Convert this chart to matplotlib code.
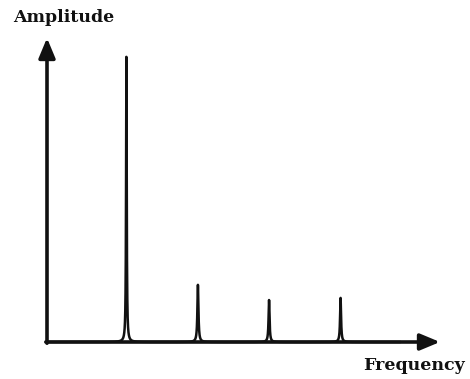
import matplotlib
matplotlib.use("Agg")
import matplotlib.pyplot as plt
import numpy as np

# line spectrum: a strong fundamental and three weak overtones
peak_freq = [2.02, 3.84, 5.65, 7.47]
peak_amp = [9.38, 1.88, 1.38, 1.45]
peak_width = [0.010, 0.016, 0.015, 0.015]

fig = plt.figure(figsize=(4.70, 3.79), dpi=100)
fig.patch.set_facecolor("white")
ax = fig.add_axes([47 / 470, 37 / 379, 393 / 470, 304 / 379])
ax.set_xlim(0, 10)
ax.set_ylim(0, 10)
ax.axis("off")

# sum of lorentzian lines
f = np.linspace(0, 9.0, 60000)
spec = np.zeros_like(f)
for f0, a, g in zip(peak_freq, peak_amp, peak_width):
    spec += a * g**2 / ((f - f0) ** 2 + g**2)
ax.plot(f, spec, color="#111111", lw=1.8, solid_capstyle="butt", clip_on=False)

# axes drawn as arrows
arrow = dict(arrowstyle="-|>,head_length=0.6,head_width=0.25", lw=2.6,
             color="#111111", mutation_scale=20, shrinkA=0, shrinkB=0)
ax.annotate("", xy=(0, 10), xytext=(0, -0.04), arrowprops=arrow, annotation_clip=False)
ax.annotate("", xy=(10, 0), xytext=(-0.03, 0), arrowprops=arrow, annotation_clip=False)

font = dict(family=["DejaVu Serif"], weight="bold", size=12.5, color="#111111")
fig.text(64 / 470, 1 - 17 / 379, "Amplitude", ha="center", va="center", **font)
fig.text(414 / 470, 1 - 366 / 379, "Frequency", ha="center", va="center", **font)

fig.savefig("out.png", dpi=100, facecolor="white")
